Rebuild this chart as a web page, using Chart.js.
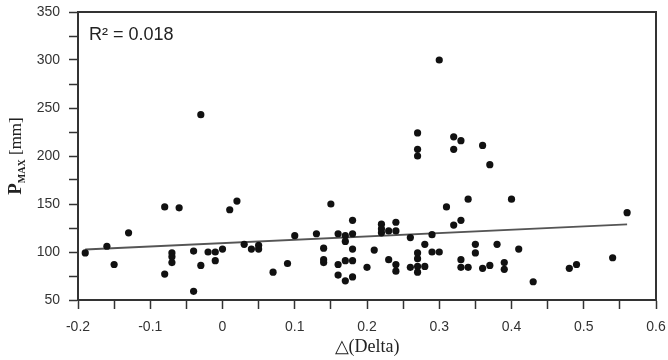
<!DOCTYPE html>
<html>
<head>
<meta charset="utf-8">
<script src="https://cdn.jsdelivr.net/npm/chart.js@4/dist/chart.umd.min.js"></script>
<style>
  body { margin: 0; background: #fff; }
  #wrap { width: 668px; height: 360px; position: relative; }
</style>
</head>
<body>
<div id="wrap"><canvas id="chart"></canvas></div>
<script>
// ============================= data

const deltaValues = [
    -0.19, -0.16, -0.15, -0.13, -0.08, -0.06, -0.08, -0.07, -0.07, -0.07,
    -0.04, -0.04, -0.03, -0.03, -0.02, -0.01, -0.01, 0.00, 0.01, 0.02,
    0.03, 0.04, 0.05, 0.05, 0.07, 0.09, 0.10, 0.13, 0.14, 0.14,
    0.14, 0.15, 0.16, 0.16, 0.16, 0.17, 0.17, 0.17, 0.17, 0.18,
    0.18, 0.18, 0.18, 0.18, 0.20, 0.21, 0.22, 0.22, 0.22, 0.23,
    0.23, 0.24, 0.24, 0.24, 0.24, 0.26, 0.26, 0.27, 0.27, 0.27,
    0.27, 0.27, 0.27, 0.27, 0.28, 0.28, 0.29, 0.29, 0.30, 0.30,
    0.31, 0.32, 0.32, 0.32, 0.33, 0.33, 0.33, 0.33, 0.34, 0.34,
    0.35, 0.35, 0.36, 0.36, 0.37, 0.37, 0.38, 0.39, 0.39, 0.40,
    0.41, 0.43, 0.48, 0.49, 0.54, 0.56
]
const pmaxValues = [
    99, 106, 87, 120, 147, 146, 77, 99, 95, 89,
    101, 59, 86, 243, 100, 100, 91, 103, 144, 153,
    108, 103, 107, 103, 79, 88, 117, 119, 104, 92,
    89, 150, 119, 87, 76, 117, 111, 91, 70, 133,
    119, 103, 91, 74, 84, 102, 129, 124, 120, 122,
    92, 131, 122, 87, 80, 115, 84, 224, 207, 200,
    99, 93, 85, 79, 108, 85, 118, 100, 300, 100,
    147, 220, 207, 128, 216, 133, 92, 84, 155, 84,
    108, 99, 211, 83, 191, 86, 108, 89, 82, 155,
    103, 69, 83, 87, 94, 141
]

// fitted line as drawn (end points)
const trendX = [-0.19, 0.56]
const trendY = [102.6, 128.7]

const xRange = [-0.2, 0.6]
const yRange = [50, 350]
const rSquaredText = 'R\u00B2 = 0.018'

// ============================= helpers

const AXIS_COLOR = '#333'
const toPoints = (xs, ys) => xs.map((x, i) => ({ x: x, y: ys[i] }))

// top + right frame and the R² note
const framePlugin = {
    id: 'frame',
    afterDraw: (chart) => {
        const { ctx, chartArea: a } = chart
        ctx.save()
        ctx.strokeStyle = AXIS_COLOR
        ctx.lineWidth = 2
        ctx.beginPath()
        ctx.moveTo(a.left, a.top)
        ctx.lineTo(a.right, a.top)
        ctx.lineTo(a.right, a.bottom)
        ctx.stroke()

        ctx.fillStyle = '#222'
        ctx.font = '18px "Liberation Sans", Arial, sans-serif'
        ctx.textBaseline = 'alphabetic'
        ctx.fillText(rSquaredText, a.left + 11, a.top + 28)
        ctx.restore()
    }
}

// y title with bold P and subscript MAX
const yTitlePlugin = {
    id: 'yTitle',
    afterDraw: (chart) => {
        const { ctx, chartArea: a } = chart
        const parts = [
            { t: 'P', font: 'bold 19px "Liberation Serif", serif', dy: 0 },
            { t: 'MAX', font: 'bold 10px "Liberation Serif", serif', dy: 4 },
            { t: ' [mm]', font: '17px "Liberation Serif", serif', dy: 0 }
        ]
        ctx.save()
        let total = 0
        parts.forEach(p => { ctx.font = p.font; p.w = ctx.measureText(p.t).width; total += p.w })
        ctx.translate(21, (a.top + a.bottom) / 2)
        ctx.rotate(-Math.PI / 2)
        ctx.fillStyle = '#222'
        ctx.textBaseline = 'alphabetic'
        let x = -total / 2
        parts.forEach(p => {
            ctx.font = p.font
            ctx.fillText(p.t, x, p.dy)
            x += p.w
        })
        ctx.restore()
    }
}

const isMultiple = (v, step) => Math.abs(v / step - Math.round(v / step)) < 1e-6

// ============================= chart

new Chart(document.getElementById('chart'), {
    data: {
        datasets: [{
            type: 'scatter',
            data: toPoints(deltaValues, pmaxValues),
            backgroundColor: '#111',
            borderWidth: 0,
            pointRadius: 3.6,
            order: 1
        }, {
            type: 'line',
            data: toPoints(trendX, trendY),
            borderColor: '#555',
            borderWidth: 1.8,
            pointRadius: 0,
            fill: false,
            order: 2
        }]
    },
    options: {
        responsive: true,
        maintainAspectRatio: false,
        animation: false,
        layout: { padding: { left: 0, right: 12, top: 12, bottom: 0 } },
        plugins: { legend: { display: false }, tooltip: { enabled: false } },
        scales: {
            x: {
                type: 'linear',
                min: xRange[0],
                max: xRange[1],
                afterFit: (s) => { s.height = 60; s.paddingLeft = 0; s.paddingRight = 0 },
                border: { color: AXIS_COLOR, width: 2 },
                grid: { drawOnChartArea: false, drawTicks: true, tickLength: 9, tickColor: AXIS_COLOR, tickWidth: 1.5 },
                ticks: {
                    stepSize: 0.05,
                    autoSkip: false,
                    maxRotation: 0,
                    padding: 10,
                    color: '#333',
                    font: { family: '"Liberation Sans", Arial, sans-serif', size: 14 },
                    callback: (v) => isMultiple(v, 0.1) ? String(Math.round(v * 10) / 10) : ''
                },
                title: {
                    display: true,
                    text: '\u25B3(Delta)',
                    color: '#222',
                    font: { family: '"Liberation Serif", serif', size: 18 },
                    padding: { top: 0, bottom: 2 }
                }
            },
            y: {
                type: 'linear',
                min: yRange[0],
                max: yRange[1],
                afterFit: (s) => { s.width = 78; s.paddingTop = 0; s.paddingBottom = 0 },
                border: { color: AXIS_COLOR, width: 2 },
                grid: { drawOnChartArea: false, drawTicks: true, tickLength: 9, tickColor: AXIS_COLOR, tickWidth: 1.5 },
                ticks: {
                    stepSize: 25,
                    autoSkip: false,
                    padding: 9,
                    color: '#333',
                    font: { family: '"Liberation Sans", Arial, sans-serif', size: 14 },
                    callback: (v) => isMultiple(v, 50) ? String(v) : ''
                }
            }
        }
    },
    plugins: [framePlugin, yTitlePlugin]
})
</script>
</body>
</html>
